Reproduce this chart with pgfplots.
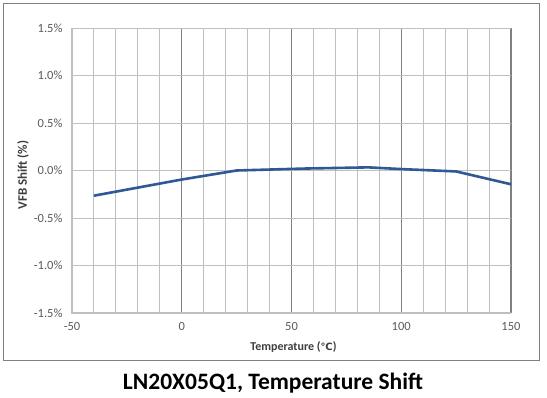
\documentclass[border=0pt]{standalone}
\usepackage{fontspec}
\setmainfont{Carlito}
\newfontfamily\symfont{DejaVu Sans}
\usepackage{pgfplots}
\pgfplotsset{compat=1.18}
\definecolor{linecol}{RGB}{47,88,148}
\definecolor{lightgrid}{RGB}{191,191,191}
\definecolor{darkgrid}{RGB}{128,128,128}
\definecolor{ticktext}{RGB}{89,89,89}
\definecolor{framecol}{RGB}{128,128,128}
\begin{document}
\begin{tikzpicture}[x=1pt,y=1pt]
\path[use as bounding box] (-72,-84) rectangle (475,313);
\draw[framecol, line width=1pt] (-68,-47) rectangle (467,309);
\begin{axis}[
  at={(0,0)}, anchor=south west,
  scale only axis, width=439pt, height=285pt,
  xmin=-50, xmax=150, ymin=-1.5, ymax=1.5,
  xtick={-50,0,50,100,150},
  minor xtick={-40,-30,-20,-10,10,20,30,40,60,70,80,90,110,120,130,140},
  ytick={-1.5,-1.0,-0.5,0,0.5,1.0,1.5},
  yticklabels={-1.5\%,-1.0\%,-0.5\%,0.0\%,0.5\%,1.0\%,1.5\%},
  /pgf/number format/assume math mode=true,
  grid=both,
  major x grid style={darkgrid, line width=1.5pt},
  minor x grid style={lightgrid, line width=0.9pt},
  major y grid style={lightgrid, line width=0.9pt},
  axis line style={draw=none},
  tick style={draw=none},
  major tick length=0pt, minor tick length=0pt,
  ticklabel style={font=\fontsize{12.5}{14}\selectfont, text=ticktext},
  yticklabel style={xshift=-6pt},
  xticklabel style={yshift=-6pt},
  clip=false,
]
\addplot[linecol, line width=2.6pt, line join=round] coordinates {
(-40,-0.265) (0,-0.095) (25,0.0) (55,0.02) (85,0.033) (100,0.015) (125,-0.01) (150,-0.145)
};
\draw[lightgrid, line width=2pt] (rel axis cs:0,1) -- (rel axis cs:0,0) -- (rel axis cs:1,0);
\end{axis}
\node[font=\fontsize{13}{15}\selectfont\bfseries, text=ticktext!70!black, rotate=90] at (-49,138) {VFB Shift (\%)};
\node[font=\fontsize{12}{14}\selectfont\bfseries, text=ticktext!70!black] at (221.5,-34) {Temperature ({\symfont\fontsize{10}{12}\selectfont ℃})};
\node[font=\fontsize{23.5}{27}\selectfont\bfseries] at (201,-70) {LN20X05Q1, Temperature Shift};
\end{tikzpicture}
\end{document}
